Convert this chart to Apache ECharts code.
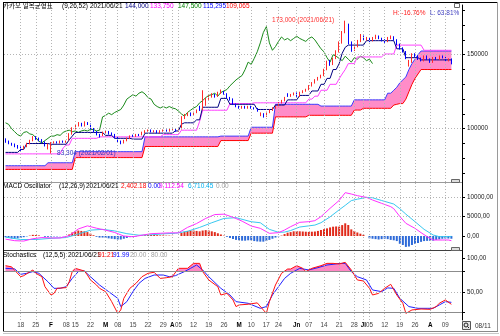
<!DOCTYPE html>
<html><head><meta charset="utf-8">
<script src="https://cdn.jsdelivr.net/npm/echarts@6/dist/echarts.min.js"></script>
<style>html,body{margin:0;padding:0;background:#fff}#c{width:500px;height:336px}</style>
</head><body><div id="c"></div>
<script>
// Trading days per month (KRX, 2021)
const janDays = [11,12,13,14,15,18,19,20,21,22,25,26,27,28,29];
const febDays = [1,2,3,4,5,8,9,10,15,16,17,18,19,22,23,24,25,26];
const marDays = [2,3,4,5,8,9,10,11,12,15,16,17,18,19,22,23,24,25,26,29,30,31];
const aprDays = [1,2,5,6,7,8,9,12,13,14,15,16,19,20,21,22,23,26,27,28,29,30];
const mayDays = [3,4,6,7,10,11,12,13,14,17,18,20,21,24,25,26,27,28,31];
const junDays = [1,2,3,4,7,8,9,10,11,14,15,16,17,18,21,22,23,24,25,28,29,30];
const julDays = [1,2,5,6,7,8,9,12,13,14,15,16,19,20,21,22,23,26,27,28,29,30];
const augDays = [2,3,4,5,6,9,10,11];
const pad = n => (n < 10 ? '0' : '') + n;
const dates = [].concat(
  janDays.map(d => '01/' + pad(d)), febDays.map(d => '02/' + pad(d)),
  marDays.map(d => '03/' + pad(d)), aprDays.map(d => '04/' + pad(d)),
  mayDays.map(d => '05/' + pad(d)), junDays.map(d => '06/' + pad(d)),
  julDays.map(d => '07/' + pad(d)), augDays.map(d => '08/' + pad(d)));
// empty slots kept at the right edge of the time axis
const spareSlots = ['08/12', '08/13', '08/17'];

// Axis date ticks: [date, label]
const dateTicks = [
  ['01/18','18'],['01/25','25'],['02/01','F'],['02/08','08'],['02/15','15'],['02/22','22'],
  ['03/02','M'],['03/08','08'],['03/15','15'],['03/22','22'],['03/29','29'],
  ['04/01','A'],['04/05','05'],['04/12','12'],['04/19','19'],['04/26','26'],
  ['05/03','M'],['05/10','10'],['05/17','17'],['05/24','24'],
  ['06/01','Jn'],['06/07','07'],['06/14','14'],['06/21','21'],['06/28','28'],
  ['07/01','Jl'],['07/05','05'],['07/12','12'],['07/19','19'],['07/26','26'],
  ['08/02','A'],['08/09','09']
];
const monthMarks = ['F','M','A','Jn','Jl'];

// Daily prices, thousands of won
const openK = [93,91,90,89.5,88,87.5,86.5,88,90,92, 94.5,93,92,91,88.5,89.5,90.5,91,90.5,91.5,
  91,92,96.5,100,102,103.5,102,104,103,100, 98,96,95,97.5,98,96.5,96,94,91.5,90.5,
  92,93.5,95.5,95,96,95.5,97.5,98.5,99,98, 98.5,97.5,98.5,99,98.5,99,99.5,98.5,100,108,
  109,110.5,109.5,111,114,113,116,120,121.5,123, 122,124,125,123.5,121,120,116.5,115,114,115,
  114,115,114,113.5,109,110,108.5,111,112.5,114, 115,117.5,119,123.5,122.5,123,124,122,124.5,125.5,
  126.5,129,131,133,134.5,136,140,145,143.5,147.5, 152,158,165,170,158,153,155.5,159,162.5,160,
  161,159.5,161,162.5,161,160,159,161,162,160, 157,154,152,143,145,150,149,147.5,146,149,
  147,145,148,147,149,148,146,147];
const highK = [93.5,92,90.5,90,89,88,88.5,90.5,92.5,95, 95,94,93,91.5,90,91,91.5,91.5,92,92,
  92,97,101,103,104.5,104,105,104.5,103.5,100.5, 98.5,96.5,98,99,98.5,97.5,96.5,94.5,92,92.5,
  94,95.5,96,96.5,96.5,98,99,99.5,99.5,99, 99,99,99.5,99.5,100,100.5,100,99.5,108.5,110,
  111,111,111.5,113,115.5,126,121,122.5,124,123.5, 125,126.5,125.5,124,121.5,120.5,117,115.5,115.5,115.5,
  115.5,115.5,114.5,114,111,110.5,111.5,113,114.5,115.5, 118,119.5,121.5,124,123.5,124.5,124.5,125,126,127,
  129.5,131.5,133.5,135,136.5,140.5,146,146.5,148,153, 159,166,173,171,159,156.5,160,164,163,162,
  161.5,162,163.5,163,161.5,160.5,162,163,162.5,160.5, 157.5,155,152.5,146.5,151,151,149.5,148,149.5,149.5,
  147.5,148.5,148.5,149.5,149.5,148.5,147.5,147.5];
const lowK = [90.5,89.5,88.5,87.5,86.5,84.5,86,87.5,89.5,91.5, 92.5,91.5,90.5,88,86,83.304,90,90,90,90.5,
  90.5,92,96,99.5,101.5,101.5,101.5,102.5,99.5,97.5, 95.5,94,95,97,96,95.5,93.5,91,89.5,90,
  91.5,93,94.5,94.5,95,95.5,97,98,97.5,97.5, 97,97,98,98,98,99,98,98,99.5,106.5,
  108.5,108.5,109,110.5,112,112.5,115.5,119.5,121,121, 121.5,123.5,123,120.5,119,116,114.5,113.5,113.5,113.5,
  113.5,113.5,113,111.5,108.5,107.5,108,110.5,112,113.5, 114.5,117,118.5,121.5,121.5,122.5,121.5,121.5,124,125,
  126,128.5,130.5,132.5,134,135.5,139.5,142.5,143,147, 151.5,157.5,164.5,157,152,152.5,155,158.5,159.5,159.5,
  158.5,159,160.5,160.5,159,158,158.5,160.5,159.5,156.5, 153.5,151.5,147,142,144.5,148.5,146.5,145.5,145.5,146.5,
  144.5,144.5,146.5,146.5,147.5,145.5,145.5,143.5];
const closeK = [91,90,89.5,88,87.5,86.5,88,90,92,94, 93,92,91,89,89.5,90.5,91,90.5,91.5,91,
  91.5,96.5,100,102,103.5,102,104,103,100,98, 96,95,97.5,98,96.5,96,94,91.5,90.5,92,
  93.5,95,95,96,95.5,97.5,98.5,99,98,98.5, 97.5,98.5,99,98.5,99.5,99.5,98.5,99,108,109,
  110.5,109.5,111,112,113,116,120,121.5,123,122, 124,125,123.5,121,120,116.5,115,114,115,114,
  115,114,113.5,112,110,108.5,111,112.5,114,115, 117.5,119,121,122.5,123,124,122,124.5,125.5,126.5,
  129,131,133,134.5,136,140,145,143.5,147.5,152, 158,165,169,158,153,155.5,159,162,160,161,
  159.5,161,162.5,161,160,159,161,162,160,157, 154,152,148,145,150,149,147.5,146,149,147,
  145,148,147,149,148,146,147,144];

// Ichimoku (9,26,52), thousands of won
const tenkan = [84,84,84,84,84,86,86,90,90,90,90,90,90,90,90,89.5,89.5,89.5,89.5,89.5,
  89.5,92.5,95,97.5,97.5,97.5,97.5,97.5,97.5,97.5,97.5,97.5,97.5,95.5,95.5,95.5,93.5,93.5,93.5,93.5,
  93.5,93.5,93,93,93,93,97,97,97,97,97,97,97,97,97,97,98.5,98.5,103,104,
  104,104,104,106,106,114.5,114.5,114.5,114.5,114.5,114.5,120.5,120.5,120.5,116.5,116.5,116.5,116.5,116.5,116.5,
  116.5,116.5,116.5,113,113,113,113,113,113,116,116,116,116,119.5,119.5,119.5,119.5,122.5,122.5,122.5,
  122.5,125.5,125.5,125.5,130,130,134,134,140,140,144,151,155,156.5,156.5,156.5,156.5,156.5,156.5,159.5,
  159.5,159.5,159.5,159.5,159.5,159.5,159.5,159.5,159.5,154,154,154,148,148,148,148,148,146.5,146.5,146.5,
  146.5,146.5,146.5,146.5,146.5,146.5,146.5,146.5];
const kijun = [83,83,83,83,83,83,83,83,83,83,83,83,83,83,83,83,83,83,83,87,
  89,89,93.5,93.5,93.5,93.5,93.5,93.5,93.5,93.5,93.5,94.5,94.5,94.5,94.5,94.5,94.5,94.5,94.5,94.5,
  94.5,94.5,94.5,94.5,94.5,94.5,94.5,94.5,94.5,94.5,94.5,94.5,96,96,96,96,96,96,99,99,
  99,99,99,99,105,112.5,112.5,112.5,112.5,112.5,112.5,112.5,112.5,112.5,117,117,117,117,117,117,
  117,117,117.5,117.5,117.5,117.5,117.5,117.5,117.5,117.5,117.5,117.5,117.5,117.5,117.5,117.5,117.5,117.5,117.5,117.5,
  120,120,122,122,126,126,126,130,130,130,133.75,137,140,144,144,144,148.5,148.5,148.5,148.5,
  148.5,148.5,148.5,148.5,148.5,150.5,150.5,150.5,150.5,156.5,156.5,156.5,156.5,156.5,156.5,156.5,156.5,156.5,153,153,
  153,153,153,153,153,153,153,153];
const senkouA = [75,75,75,75,75,75,75,75,75,75,75,75,75,75,77,77,77,77,77,77,
  77,77,77,84.5,84.5,84.5,84.5,84.5,84.5,84.5,84.5,84.5,84.5,84.5,84.5,84.5,84.5,84.5,84.5,84.5,
  84.5,84.5,84.5,84.5,84.5,84.5,94.5,94.5,94.5,94.5,94.5,94.5,94.5,94.5,94.5,94.5,94.5,94.5,94.5,94.5,
  94.5,94.5,94.5,94.5,94.5,94.5,94.5,94.5,94.5,94.5,94.5,95,95,95,95,95,95,95,95,95,
  95,101,101,101,101,101,101,101,101,116.5,116.5,116.5,116.5,116.5,116.5,116.5,116.5,116.5,116.5,116.5,
  116.5,116.5,116.5,116.5,115.295,115.295,115.295,115.295,115.295,115.295,115.295,115.295,115.295,115.295,115.295,119.5,119.5,119.5,119.5,119.5,
  119.5,119.5,119.5,119.5,119.5,119.5,124,124,126,128,131,133,135,140,144,147,150,152.5,152.5,152.5,
  152.5,152.5,152.5,152.5,152.5,152.5,152.5,152.5];
const senkouB = [72.5,72.5,72.5,72.5,72.5,72.5,72.5,72.5,72.5,72.5,72.5,72.5,72.5,72.5,72.5,72.5,72.5,72.5,72.5,72.5,
  72.5,72.5,72.5,80.5,80.5,80.5,80.5,80.5,80.5,80.5,80.5,80.5,80.5,80.5,80.5,80.5,80.5,80.5,80.5,80.5,
  80.5,80.5,80.5,80.5,80.5,80.5,88,88,88,88,88,88,88,88,88,88,88,88,88,88,
  88,88,88,88,88,88,88,88,88,88,88,92,92,92,92,92,92,92,92,92,
  92,97,97,97,97,97,97,97,97,108,108,108,108,108,108,108,108,108,108,108,
  109.065,109.065,109.065,109.065,109.065,109.065,109.065,109.065,109.065,109.065,109.065,109.065,109.065,109.065,109.065,112.6,112.6,112.6,113.8,113.8,
  113.8,113.8,113.8,113.8,113.8,113.8,113.8,113.8,116,116.5,117,117,120,125,130,134,137,140,140,140,
  140,140,140,140,140,140,140,140];
const laggingShift = 26;

// MACD (12,26,9), won: [day index, value]
const macdLine = [[0,-800],[3,-1200],[6,-1300],[9,-700],[12,-400],[15,-500],[18,-500],[21,100],[24,1800],[27,2600],
  [30,2000],[33,1500],[36,900],[39,0],[42,-200],[45,200],[48,600],[51,700],[54,800],[57,800],[60,2200],[63,3200],
  [66,4500],[69,5500],[72,5600],[75,4800],[78,3800],[81,2564],[84,1966],[87,684],[90,855],[92,1538],[94,2393],
  [97,3504],[100,3675],[102,3931],[104,4957],[107,7094],[110,9112.54],[112,11111],[114,10769],[116,10342],[119,9900],
  [121,9231],[124,8376],[127,7521],[128,7000],[130,5000],[132,3248],[135,1966],[137,855],[139,-171],[141,-1026],
  [144,-1026],[146,-1026],[147,-1200]];
const signalLine = [[0,-300],[5,-900],[10,-900],[15,-600],[20,-400],[24,500],[28,1500],[32,1700],[36,1300],[40,600],
  [44,200],[48,300],[52,550],[56,700],[60,1200],[64,2200],[68,3400],[72,4500],[76,4700],[81,3660],[84,3400],
  [87,1700],[90,950],[92,1000],[94,1400],[97,2300],[100,2600],[102,2800],[104,3400],[107,4900],[110,6710.45],
  [112,7860],[114,9070],[116,9440],[119,9900],[121,9800],[124,9100],[128,8200],[130,7000],[132,5600],[135,3675],
  [138,1709],[141,256],[143,-171],[146,-171],[147,-100]];
const oscillator = [-300,-450,-600,-650,-600,-500,-300,-100,100,
  300,250,150,0,-200,-200,-150,-100,-100,-50,-50,0,
  400,900,1200,1400,1300,1200,1000,600,
  200,-200,-400,-400,-500,-600,-700,-800,-900,-900,
  -700,-500,-300,-200,-100,0,100,200,250,300,250,200,
  150,150,100,100,50,0,0,
  800,1100,1300,1400,1400,1300,1200,1400,1500,1400,1200,1000,700,
  400,100,-200,-500,-800,-1000,-1100,-1200,-1200,-1100,
  -1100,-1300,-1400,-1450,-1450,-1300,-1000,-700,-400,-100,100,
  500,850,1000,1200,1280,1200,1150,1100,1050,1100,1150,1300,1540,1750,1960,
  2200,2390,2450,2402.18,2800,3250,2820,1700,1300,900,600,300,
  0,-600,-700,-800,-900,-800,-700,-800,-1000,-1100,-1300,
  -2000,-2300,-2800,-2700,-2300,-2000,-1800,-1500,-1300,-1250,-1250,-1200,-1000,-850,-700,-650,-650,-700];

// Stochastics (12,5,5): [day index, value]
const stochK = [[0,88.7],[2,87],[3,82],[5,72.5],[6,74],[9,82.4],[10,77.5],[12,72.5],[13,57.8],[15,45.6],[16,48],
  [17,55.4],[20,56.4],[21,65],[22,80],[23,84.8],[26,80.9],[27,75],[28,67.7],[30,60.3],[31,55.4],[33,50.5],[35,35.8],
  [37,18.6],[38,23.6],[39,40.7],[41,55.4],[43,62.7],[45,72.5],[47,77.5],[49,79],[51,70],[53,71],[55,72.5],[57,84.8],
  [60,84.8],[62,92.1],[64,92.1],[65,80],[67,67.7],[70,57.8],[71,45.6],[73,48],[75,38.3],[76,28.5],[77,31],[80,32],
  [83,34],[85,23.6],[86,18.6],[87,35.8],[89,60.3],[91,77.5],[93,83.8],[94,83.8],[96,88.7],[98,84.8],[99,80],[101,84.8],
  [104,88.7],[106,92.1],[108,92.1],[110,91.21],[112,93.6],[114,82.4],[116,67.7],[118,66.2],[120,55.4],[121,45.6],
  [123,48],[125,55.4],[127,61.3],[129,45.6],[131,33.4],[132,18.6],[134,23.6],[137,25],[140,24.5],[142,28.5],
  [143,33.4],[145,38.3],[147,31.9]];
const stochD = [[0,84.8],[3,84],[5,76],[7,77.5],[9,80],[11,77.5],[14,65],[16,55.4],[18,55.4],[20,57.8],[22,70],
  [24,80],[26,80.9],[28,72.5],[31,60.3],[34,50.5],[37,40.7],[38,28.5],[40,35.8],[42,50.5],[44,62.7],[46,70],[49,75],
  [52,75],[54,72.5],[56,74],[59,80],[61,84.8],[63,89.7],[65,82.4],[67,72.5],[71,55.4],[74,45.6],[76,35.8],[80,33.4],
  [84,26],[86,28.5],[88,45.6],[92,70],[94,77.5],[97,84.8],[100,82.4],[103,85.8],[106,89.7],[108,90.7],[110,91.99],
  [112,92.1],[114,80],[116,72.5],[119,67.7],[121,53],[124,50.5],[126,56],[128,55.4],[130,40.7],[133,28.5],[136,26],
  [139,26],[141,26],[143,30.9],[145,35.8],[147,34.8]];
const stochBands = [20, 80];

// Header values for the inspected session
const cursorDate = '2021/06/21';
const highLabelDate = '2021/06/21';
const lowLabelDate = '2021/02/01';
const rangeTexts = ['H: -16.76%', 'L: 63.81%'];

// ---------------------------------------------------------------
const FONT = '"Liberation Sans", "Noto Sans CJK KR", sans-serif';
const FS = 6.5;     // header and marker text
const AXFS = 6.3;   // axis labels
const cursor = dates.indexOf(cursorDate.slice(5));
const cats = dates.concat(spareSlots);
const tickIndex = new Map(dateTicks.map(t => [dates.indexOf(t[0]), t[1]]));
const won = v => Math.round(v * 1000).toLocaleString('en-US');
const num2 = v => v.toLocaleString('en-US', {minimumFractionDigits: 2, maximumFractionDigits: 2});
const pairAt = (arr, i) => (arr.find(p => p[0] === i) || [i, 0])[1];

const candles = openK.map((o, i) => [o, closeK[i], lowK[i], highK[i]]);
const laggingSpan = closeK.slice(laggingShift);
let hiIdx = 0, loIdx = 0;
highK.forEach((v, i) => { if (v > highK[hiIdx]) hiIdx = i; });
lowK.forEach((v, i) => { if (v < lowK[loIdx]) loIdx = i; });

// Panel geometry: price, MACD, stochastics
const PX = 0.675706;           // thousand won per pixel
const PRICE_MIN = 64.0, PRICE_MAX = 64.0 + 177 * PX;
const MACD_PX = 5000 / 19.5;
const MACD_MIN = -14 * MACD_PX, MACD_MAX = 54 * MACD_PX;
const ST_PX = 0.68;
const ST_MIN = 100 - 62 / ST_PX, ST_MAX = 100 + 8 / ST_PX;

const dotted = {type: [1, 2], color: '#b4b4b4', width: 1};
const vLines = dateTicks.map(t => ({xAxis: t[0]}));
const gridLines = (xi, yi, hs, extra) => ({
  type: 'line', xAxisIndex: xi, yAxisIndex: yi, data: [], silent: true, z: 0,
  markLine: {symbol: ['none', 'none'], silent: true, label: {show: false}, animation: false,
    lineStyle: dotted, data: vLines.concat(hs.map(h => ({yAxis: h}))).concat(extra || [])}
});

const xAxisOf = (gi, showLabels) => ({
  type: 'category', gridIndex: gi, data: cats, boundaryGap: true,
  axisLine: {show: false}, axisTick: {show: false}, splitLine: {show: false},
  axisLabel: showLabels ? {
    show: true, margin: 2, interval: (i) => tickIndex.has(i),
    formatter: (v, i) => { const t = tickIndex.get(i) || ''; return monthMarks.includes(t) ? '{m|' + t + '}' : '{d|' + t + '}'; },
    rich: {m: {fontFamily: FONT, fontSize: AXFS, fontWeight: 'bold', color: '#000'},
           d: {fontFamily: FONT, fontSize: AXFS, color: '#444'}}
  } : {show: false}
});
const yAxisOf = (gi, min, max, ticks, labels, fmt) => ({
  type: 'value', gridIndex: gi, position: 'right', min, max,
  axisLine: {show: true, lineStyle: {color: '#000', width: 1}},
  axisTick: {show: true, length: 3, lineStyle: {color: '#000'}, customValues: ticks},
  axisLabel: {show: true, margin: 5, customValues: labels, formatter: fmt,
    fontFamily: FONT, fontSize: AXFS, color: '#222'},
  splitLine: {show: false}
});
const hiddenY = (gi, min, max) => ({type: 'value', gridIndex: gi, min, max, show: false, splitLine: {show: false}});

const text = (x, y, s, color, extra) => ({type: 'text', x, y, silent: true, z: 50,
  style: Object.assign({text: s, fill: color, font: FS + 'px ' + FONT, verticalAlign: 'middle'}, extra || {})});

const chikouAtCursor = closeK[cursor + laggingShift];
const graphics = [
  // frame
  {type: 'line', shape: {x1: 3, y1: 2.5, x2: 497, y2: 2.5}, style: {stroke: '#000', lineWidth: 1}, silent: true},
  {type: 'line', shape: {x1: 3.5, y1: 2, x2: 3.5, y2: 332}, style: {stroke: '#000', lineWidth: 1}, silent: true},
  {type: 'line', shape: {x1: 497.5, y1: 2, x2: 497.5, y2: 332}, style: {stroke: '#9a9a9a', lineWidth: 1}, silent: true},
  {type: 'line', shape: {x1: 3, y1: 331.5, x2: 498, y2: 331.5}, style: {stroke: '#8a8a8a', lineWidth: 1}, silent: true},
  {type: 'line', shape: {x1: 3, y1: 333.5, x2: 499, y2: 333.5}, style: {stroke: '#c8c8c8', lineWidth: 1}, silent: true},
  // panel separators
  {type: 'line', shape: {x1: 4, y1: 182.5, x2: 462, y2: 182.5}, style: {stroke: '#9a9a9a', lineWidth: 1}, silent: true, z: 40},
  {type: 'line', shape: {x1: 4, y1: 250.5, x2: 462, y2: 250.5}, style: {stroke: '#404040', lineWidth: 1}, silent: true, z: 40},
  // panel buttons
  {type: 'rect', shape: {x: 454.5, y: 3.5, width: 5, height: 4}, style: {fill: '#fff', stroke: '#666'}, silent: true, z: 40},
  {type: 'rect', shape: {x: 451.5, y: 179.5, width: 8, height: 3}, style: {fill: '#ddd', stroke: '#666'}, silent: true, z: 40},
  {type: 'rect', shape: {x: 451.5, y: 247.5, width: 8, height: 3}, style: {fill: '#ddd', stroke: '#666'}, silent: true, z: 40},
  {type: 'rect', shape: {x: 462.5, y: 321.5, width: 8, height: 8}, style: {fill: '#e6e6e6', stroke: '#555'}, silent: true, z: 40},
  {type: 'circle', shape: {cx: 466, cy: 325, r: 2}, style: {fill: 'none', stroke: '#222'}, silent: true, z: 41},
  {type: 'line', shape: {x1: 467.5, y1: 326.5, x2: 469, y2: 328}, style: {stroke: '#222'}, silent: true, z: 41},
  text(475, 326, dates[dates.length - 1], '#333'),
  // price panel header
  text(3, 6, '카카오 일목균형표', '#000'),
  text(62, 6, '(9,26,52)', '#000'),
  text(90, 6, cursorDate, '#000'),
  text(125, 6, won(tenkan[cursor]), '#000080'),
  text(150, 6, won(kijun[cursor]), '#ff00ff'),
  text(178, 6, won(chikouAtCursor), '#008000'),
  text(203, 6, won(senkouA[cursor]), '#0000ff'),
  text(226, 6, won(senkouB[cursor]), '#ff0000'),
  text(393, 13, rangeTexts[0], '#ff2020'),
  text(430, 13, rangeTexts[1], '#4040c0'),
  // MACD header
  text(3, 186, 'MACD Oscillator', '#000'),
  text(59, 186, '(12,26,9)', '#000'),
  text(86, 186, cursorDate, '#000'),
  text(121, 186, num2(oscillator[cursor]), '#ff0000'),
  text(148, 186, num2(0), '#0000ff'),
  text(159, 186, num2(pairAt(macdLine, cursor)), '#ff00ff'),
  text(188, 186, num2(pairAt(signalLine, cursor)), '#00b0f0'),
  text(216, 186, num2(0), '#a0a0a0'),
  // stochastics header
  text(3, 255, 'Stochastics', '#000'),
  text(43, 255, '(12,5,5)', '#000'),
  text(68, 255, cursorDate, '#000'),
  text(98, 255, num2(pairAt(stochK, cursor)), '#ff0000'),
  text(113, 255, num2(pairAt(stochD, cursor)), '#0000ff'),
  text(130, 255, num2(stochBands[0]), '#a0a0a0'),
  text(151, 255, num2(stochBands[1]), '#a0a0a0')
];

// Kumo: filled band between the two leading spans, edged by each span
const cloudSeries = {
  type: 'custom', xAxisIndex: 0, yAxisIndex: 0, z: 1, clip: true, silent: true,
  data: [[0, senkouA[0]]],
  renderItem: (params, api) => {
    const top = senkouA.map((a, i) => api.coord([i, a]));
    const bottom = senkouB.map((b, i) => api.coord([i, b]));
    return {type: 'group', children: [
      {type: 'polygon', shape: {points: top.concat(bottom.slice().reverse())}, style: {fill: '#ff8cc8'}},
      {type: 'polyline', shape: {points: bottom}, style: {stroke: '#ff0000', lineWidth: 1, fill: null}},
      {type: 'polyline', shape: {points: top}, style: {stroke: '#3c3cff', lineWidth: 1, fill: null}}
    ]};
  }
};

const option = {
  animation: false,
  backgroundColor: '#fff',
  grid: [
    {left: 4, top: 5, width: 458, height: 177},
    {left: 4, top: 182, width: 458, height: 68},
    {left: 4, top: 250, width: 458, height: 70},
    {left: 4, top: 250, width: 458, height: (ST_MAX - stochBands[1]) * ST_PX},
    {left: 4, top: 250 + (ST_MAX - stochBands[0]) * ST_PX, width: 458, height: (stochBands[0] - ST_MIN) * ST_PX}
  ],
  xAxis: [xAxisOf(0, false), xAxisOf(1, false), xAxisOf(2, true), xAxisOf(3, false), xAxisOf(4, false)],
  yAxis: [
    yAxisOf(0, PRICE_MIN, PRICE_MAX, [70,80,90,100,110,120,130,140,150,160,170,180], [100, 150], v => String(Math.round(v * 1000))),
    yAxisOf(1, MACD_MIN, MACD_MAX, [0, 5000, 10000], [0, 5000, 10000], v => v.toFixed(2).replace('.', ',')),
    yAxisOf(2, ST_MIN, ST_MAX, [20, 50, 80, 100], [50, 100], v => v.toFixed(2).replace('.', ',')),
    hiddenY(3, stochBands[1], ST_MAX),
    hiddenY(4, ST_MIN, stochBands[0])
  ],
  graphic: graphics,
  series: [
    gridLines(0, 0, [100, 150]),
    gridLines(1, 1, [5000, 10000]),
    gridLines(2, 2, [50], stochBands.map(b => ({yAxis: b, lineStyle: {type: 'solid', color: '#8c8c8c'}}))),
    cloudSeries,
    {type: 'line', xAxisIndex: 0, yAxisIndex: 0, data: laggingSpan, symbol: 'none', z: 2,
      lineStyle: {color: '#1a8a1a', width: 1}},
    {type: 'line', xAxisIndex: 0, yAxisIndex: 0, data: kijun, symbol: 'none', z: 2,
      lineStyle: {color: '#ff40ff', width: 1}},
    {type: 'line', xAxisIndex: 0, yAxisIndex: 0, data: tenkan, symbol: 'none', z: 2,
      lineStyle: {color: '#000080', width: 1}},
    {type: 'candlestick', xAxisIndex: 0, yAxisIndex: 0, data: candles, barWidth: 1, z: 3,
      itemStyle: {color: '#ff2a2a', color0: '#0000ff', borderColor: '#ff2a2a', borderColor0: '#0000ff', borderWidth: 1},
      markPoint: {symbol: 'circle', symbolSize: 0, animation: false, silent: true,
        data: [
          {coord: [hiIdx, highK[hiIdx]], label: {show: true, position: 'left', distance: 11, color: '#ff3030',
            fontFamily: FONT, fontSize: FS, formatter: won(highK[hiIdx]) + ' (' + highLabelDate + ')'}},
          {coord: [loIdx, lowK[loIdx]], label: {show: true, position: 'right', distance: 6, color: '#3030c0',
            fontFamily: FONT, fontSize: FS, formatter: won(lowK[loIdx]) + ' (' + lowLabelDate + ')'}}
        ]}},
    // MACD
    {type: 'bar', xAxisIndex: 1, yAxisIndex: 1, data: oscillator, barWidth: 2, z: 2,
      itemStyle: {color: p => (p.value >= 0 ? '#e02a1a' : '#2e6ad8')}},
    {type: 'line', xAxisIndex: 1, yAxisIndex: 1, data: signalLine, symbol: 'none', z: 3,
      lineStyle: {color: '#38c8f0', width: 1}},
    {type: 'line', xAxisIndex: 1, yAxisIndex: 1, data: macdLine, symbol: 'none', z: 3,
      lineStyle: {color: '#ff30ff', width: 1}},
    // stochastics: shaded excursions beyond the bands
    {type: 'line', xAxisIndex: 3, yAxisIndex: 3, data: stochK, symbol: 'none', z: 1, clip: true,
      lineStyle: {width: 0, opacity: 0}, areaStyle: {color: '#ff88c4', opacity: 1, origin: 'start'}},
    {type: 'line', xAxisIndex: 4, yAxisIndex: 4, data: stochK, symbol: 'none', z: 1, clip: true,
      lineStyle: {width: 0, opacity: 0}, areaStyle: {color: '#ff88c4', opacity: 1, origin: 'end'}},
    {type: 'line', xAxisIndex: 2, yAxisIndex: 2, data: stochD, symbol: 'none', z: 3,
      lineStyle: {color: '#2020ff', width: 1}},
    {type: 'line', xAxisIndex: 2, yAxisIndex: 2, data: stochK, symbol: 'none', z: 3,
      lineStyle: {color: '#ff1010', width: 1}}
  ]
};

const chart = echarts.init(document.getElementById('c'), null, {renderer: 'canvas', width: 500, height: 336});
chart.setOption(option);
</script>
</body></html>
